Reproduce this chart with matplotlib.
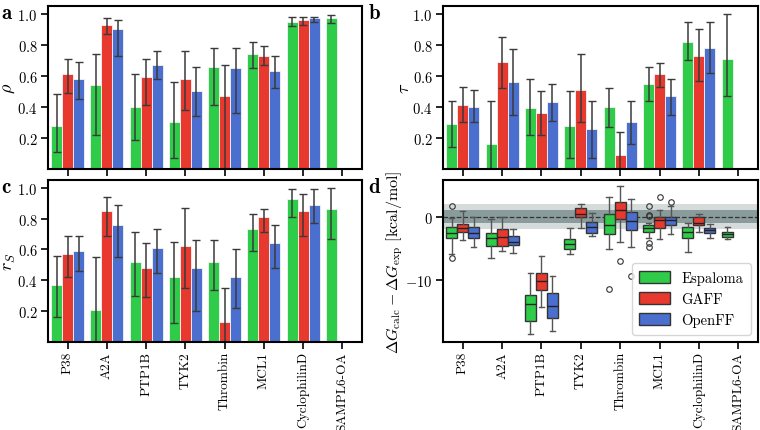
import matplotlib
matplotlib.use("Agg")
import matplotlib.pyplot as plt
import matplotlib.patches as mpatches
import numpy as np

plt.rcParams["font.family"] = ["cmr10", "DejaVu Serif"]
plt.rcParams["mathtext.fontset"] = "cm"
plt.rcParams["axes.formatter.use_mathtext"] = True
plt.rcParams["font.size"] = 10.5

systems = ["P38", "A2A", "PTP1B", "TYK2", "Thrombin", "MCL1", "CyclophilinD", "SAMPL6-OA"]
methods = ["Espaloma", "GAFF", "OpenFF"]
colors = ["#2ecc48", "#e8392f", "#4a6fcf"]

# Pearson rho: value, lower CI, upper CI (GAFF/OpenFF missing for SAMPL6-OA)
rho_esp = [0.28, 0.54, 0.40, 0.30, 0.66, 0.74, 0.95, 0.97]
rho_esp_lo = [0.11, 0.22, 0.19, 0.07, 0.41, 0.65, 0.92, 0.94]
rho_esp_hi = [0.48, 0.74, 0.61, 0.56, 0.78, 0.82, 0.98, 0.99]
rho_gaff = [0.61, 0.93, 0.59, 0.58, 0.47, 0.73, 0.96]
rho_gaff_lo = [0.49, 0.87, 0.41, 0.38, -0.05, 0.67, 0.93]
rho_gaff_hi = [0.71, 0.97, 0.71, 0.76, 0.67, 0.79, 0.98]
rho_off = [0.58, 0.90, 0.67, 0.50, 0.65, 0.63, 0.97]
rho_off_lo = [0.45, 0.73, 0.58, 0.34, 0.36, 0.52, 0.95]
rho_off_hi = [0.69, 0.96, 0.76, 0.66, 0.78, 0.73, 0.98]

# Kendall tau
tau_esp = [0.29, 0.16, 0.39, 0.28, 0.40, 0.55, 0.82, 0.71]
tau_esp_lo = [0.14, -0.05, 0.22, 0.07, 0.27, 0.44, 0.70, 0.47]
tau_esp_hi = [0.44, 0.44, 0.58, 0.50, 0.52, 0.66, 0.95, 1.00]
tau_gaff = [0.41, 0.69, 0.36, 0.51, 0.09, 0.61, 0.73]
tau_gaff_lo = [0.30, 0.52, 0.22, 0.30, -0.05, 0.53, 0.57]
tau_gaff_hi = [0.53, 0.85, 0.50, 0.74, 0.24, 0.68, 0.90]
tau_off = [0.40, 0.56, 0.43, 0.26, 0.30, 0.47, 0.78]
tau_off_lo = [0.30, 0.35, 0.31, 0.07, 0.16, 0.35, 0.62]
tau_off_hi = [0.51, 0.77, 0.55, 0.44, 0.44, 0.58, 0.95]

# Spearman r_S
rs_esp = [0.37, 0.21, 0.52, 0.42, 0.52, 0.73, 0.93, 0.86]
rs_esp_lo = [0.16, -0.05, 0.30, 0.12, 0.34, 0.59, 0.81, 0.67]
rs_esp_hi = [0.56, 0.55, 0.71, 0.65, 0.66, 0.83, 0.99, 1.00]
rs_gaff = [0.57, 0.85, 0.48, 0.62, 0.13, 0.81, 0.85]
rs_gaff_lo = [0.42, 0.69, 0.29, 0.35, -0.05, 0.71, 0.69]
rs_gaff_hi = [0.69, 0.94, 0.64, 0.87, 0.35, 0.86, 0.96]
rs_off = [0.59, 0.76, 0.61, 0.48, 0.42, 0.64, 0.89]
rs_off_lo = [0.46, 0.55, 0.45, 0.20, 0.22, 0.48, 0.77]
rs_off_hi = [0.69, 0.89, 0.73, 0.66, 0.60, 0.76, 0.99]

# box stats for dG error: [whislo, q1, med, q3, whishi], fliers
esp_box = [[-6.0, -3.47, -2.57, -1.65, -0.26], [-6.5, -4.65, -3.47, -2.67, -0.43],
           [-18.7, -16.5, -13.9, -12.5, -9.0], [-5.9, -5.2, -4.4, -3.5, -1.87],
           [-5.1, -2.83, -1.33, 0.38, 3.16], [-3.4, -2.46, -1.87, -1.38, -1.0],
           [-5.7, -3.47, -2.4, -1.6, -0.96], [-3.63, -3.26, -2.83, -2.4, -1.6]]
esp_fliers = [[1.7, -6.6], [], [], [], [-11.45], [1.6, 0.3, 0.1, -4.2, -4.9], [], []]
gaff_box = [[-3.74, -2.46, -1.76, -1.12, 0.91], [-5.4, -4.6, -3.2, -1.97, -0.1],
            [-14.4, -11.66, -10.16, -9.0, -6.2], [-1.8, 0.0, 0.45, 1.3, 2.0],
            [-4.1, -0.37, 1.02, 2.3, 4.9], [-3.6, -1.87, -0.5, -0.05, 1.07],
            [-2.45, -1.38, -1.0, -0.05, 0.48]]
gaff_fliers = [[], [], [], [], [-7.0], [3.05], []]
off_box = [[-4.86, -3.47, -2.57, -1.65, 0.0], [-5.72, -4.44, -4.0, -3.1, -1.97],
           [-18.2, -16.1, -14.2, -12.1, -9.5], [-3.1, -2.67, -1.65, -0.85, 0.64],
           [-4.9, -2.13, -0.69, 0.7, 2.73], [-2.83, -1.33, -0.5, -0.05, 1.7],
           [-3.42, -2.57, -2.18, -1.76, -1.12]]
off_fliers = [[], [], [], [], [-9.5], [2.25], []]

W = 0.28
offsets = [-W, 0.0, W]


def bar_panel(ax, vals, los, his, ylabel):
    for k in range(3):
        v = np.array(vals[k])
        x = np.arange(len(v)) + offsets[k]
        yerr = [v - np.array(los[k]), np.array(his[k]) - v]
        ax.bar(x, v, width=W, color=colors[k], edgecolor="#f4f4f4", linewidth=0.6,
               yerr=yerr, ecolor="#3a3a3a", capsize=3,
               error_kw=dict(elinewidth=1.1, capthick=1.0))
    ax.set_xlim(-0.5, 7.5)
    ax.set_ylim(0, 1.05)
    ax.set_yticks([0.2, 0.4, 0.6, 0.8, 1.0])
    ax.set_ylabel(ylabel, fontsize=13)
    ax.set_xticks(np.arange(len(systems)))


def style(ax):
    for s in ax.spines.values():
        s.set_linewidth(1.5)
    ax.tick_params(direction="out", length=5, width=1.2, pad=2.5, top=False, right=False)
    ax.tick_params(axis="x", labelsize=9.6, pad=1.5)


fig = plt.figure(figsize=(7.6, 4.31), dpi=100)
H = 431.0
axa = fig.add_axes([48 / 760, (H - 170) / H, 314 / 760, 163 / H])
axb = fig.add_axes([443 / 760, (H - 170) / H, 315 / 760, 163 / H])
axc = fig.add_axes([48 / 760, (H - 343) / H, 314 / 760, 162 / H])
axd = fig.add_axes([443 / 760, (H - 343) / H, 315 / 760, 162 / H])

bar_panel(axa, [rho_esp, rho_gaff, rho_off], [rho_esp_lo, rho_gaff_lo, rho_off_lo],
          [rho_esp_hi, rho_gaff_hi, rho_off_hi], r"$\rho$")
bar_panel(axb, [tau_esp, tau_gaff, tau_off], [tau_esp_lo, tau_gaff_lo, tau_off_lo],
          [tau_esp_hi, tau_gaff_hi, tau_off_hi], r"$\tau$")
bar_panel(axc, [rs_esp, rs_gaff, rs_off], [rs_esp_lo, rs_gaff_lo, rs_off_lo],
          [rs_esp_hi, rs_gaff_hi, rs_off_hi], r"$r_S$")
axa.set_xticklabels([])
axb.set_xticklabels([])
axc.set_xticklabels(systems, rotation=90)
axa.yaxis.set_label_coords(-0.099, 0.5)
axb.yaxis.set_label_coords(-0.098, 0.5)
axc.yaxis.set_label_coords(-0.094, 0.5)

# panel d: box plots
axd.axhspan(-2, 2, color="darkslategray", alpha=0.2, linewidth=0)
axd.axhspan(-1, 1, color="darkslategray", alpha=0.45, linewidth=0)
axd.axhline(0, color="#333333", linestyle="--", linewidth=0.9)
for k, (boxes, fliers) in enumerate([(esp_box, esp_fliers), (gaff_box, gaff_fliers),
                                     (off_box, off_fliers)]):
    stats = []
    for b, f in zip(boxes, fliers):
        stats.append(dict(whislo=b[0], q1=b[1], med=b[2], q3=b[3], whishi=b[4], fliers=f))
    pos = np.arange(len(stats)) + offsets[k]
    axd.bxp(stats, positions=pos, widths=0.28, patch_artist=True, manage_ticks=False,
            boxprops=dict(facecolor=colors[k], edgecolor="#333333", linewidth=1.0),
            medianprops=dict(color="#222222", linewidth=1.0),
            whiskerprops=dict(color="#555555", linewidth=1.0),
            capprops=dict(color="#555555", linewidth=1.0),
            flierprops=dict(marker="o", markersize=4, markerfacecolor="none",
                            markeredgecolor="#333333", markeredgewidth=0.8))
axd.set_xlim(-0.5, 7.5)
axd.set_ylim(-19.9, 5.8)
axd.set_yticks([-10, 0])
axd.set_xticks(np.arange(len(systems)))
axd.set_xticklabels(systems, rotation=90)
axd.set_ylabel(r"$\Delta G_\mathrm{calc} - \Delta G_\mathrm{exp}$ [kcal/mol]", fontsize=11.5)
axd.yaxis.set_label_coords(-0.12, 0.5)
handles = [mpatches.Patch(facecolor=c, edgecolor="#333333", label=m)
           for c, m in zip(colors, methods)]
axd.legend(handles=handles, loc="lower right", fontsize=10.5, handlelength=2.1,
           handleheight=0.9, labelspacing=0.5, borderpad=0.5, handletextpad=0.8)

for ax in (axa, axb, axc, axd):
    style(ax)

for lab, x, y in [("a", 0.002, 0.99), ("b", 0.485, 0.99), ("c", 0.002, 0.588), ("d", 0.485, 0.588)]:
    fig.text(x, y, lab, family="cmb10", fontsize=15, va="top")

fig.savefig("out.png", dpi=100)
